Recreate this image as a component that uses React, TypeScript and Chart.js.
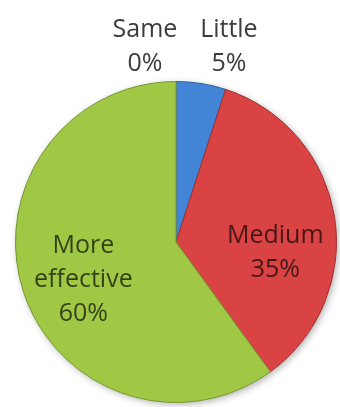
import React, { useEffect, useRef } from "react";
import { Chart, registerables } from "chart.js";

Chart.register(...registerables);

const categories = ["Little", "Medium", "More effective", "Same"];
const labelLines = [["Little", "5%"], ["Medium", "35%"], ["More", "effective", "60%"], ["Same", "0%"]];
const values = [5, 35, 60, 0];
const sliceColors = ["#4285d6", "#d94343", "#a0c845", "#7f7f7f"];
const sliceBorders = ["#2f5f9c", "#9e2f2f", "#74952e", "#555555"];
const labelOutside = [true, false, false, true];
const labelNudge = [[22, -2], [1, 25], [2, 5], [-31, 0]];

const labelPlugin = {
  id: "sliceLabels",
  beforeDatasetsDraw(chart: any) {
    const meta = chart.getDatasetMeta(0);
    const arc = meta.data[0];
    if (!arc) return;
    const { x, y, outerRadius } = arc.getProps(["x", "y", "outerRadius"], true);
    const ctx = chart.ctx;
    ctx.save();
    ctx.beginPath();
    ctx.arc(x, y, outerRadius, 0, Math.PI * 2);
    ctx.fillStyle = "#ffffff";
    ctx.shadowColor = "rgba(0,0,0,0.3)";
    ctx.shadowBlur = 7;
    ctx.shadowOffsetX = 2;
    ctx.shadowOffsetY = 2;
    ctx.fill();
    ctx.restore();
  },
  afterDatasetsDraw(chart: any) {
    const ctx = chart.ctx;
    const meta = chart.getDatasetMeta(0);
    const fontSize = 25;
    const lineH = 34;
    ctx.save();
    ctx.font = `${fontSize}px "Open Sans"`;
    ctx.textAlign = "center";
    ctx.textBaseline = "alphabetic";
    meta.data.forEach((el: any, i: number) => {
      const { x, y, startAngle, endAngle, outerRadius } = el.getProps(
        ["x", "y", "startAngle", "endAngle", "outerRadius"],
        true
      );
      const mid = (startAngle + endAngle) / 2;
      const dist = labelOutside[i] ? outerRadius + 37 : outerRadius * 0.62;
      const ax = x + Math.cos(mid) * dist + labelNudge[i][0];
      const ay = y + Math.sin(mid) * dist + labelNudge[i][1];
      const lines = labelLines[i];
      ctx.fillStyle = labelOutside[i] ? "#3c3c3c" : "rgba(0,0,0,0.68)";
      lines.forEach((t: string, j: number) => {
        const by = ay - ((lines.length - 1) * lineH) / 2 + j * lineH + fontSize * 0.36;
        ctx.fillText(t, ax, by);
      });
    });
    ctx.restore();
  },
};

export default function App() {
  const ref = useRef<HTMLCanvasElement>(null);
  useEffect(() => {
    if (!ref.current) return;
    const chart = new Chart(ref.current, {
      type: "pie",
      data: {
        labels: categories,
        datasets: [
          {
            data: values,
            backgroundColor: sliceColors,
            borderColor: sliceBorders,
            borderWidth: 1,
          },
        ],
      },
      options: {
        responsive: false,
        animation: false,
        layout: { padding: { left: 15, right: 3, top: 81, bottom: 4 } },
        plugins: {
          legend: { display: false },
          tooltip: { enabled: false },
          title: { display: false },
        },
      },
      plugins: [labelPlugin],
    });
    return () => chart.destroy();
  }, []);
  return (
    <div style={{ position: "absolute", left: 0, top: 0, width: 340, height: 407, background: "#ffffff" }}>
      <canvas ref={ref} width={340} height={407} style={{ display: "block" }} />
    </div>
  );
}
